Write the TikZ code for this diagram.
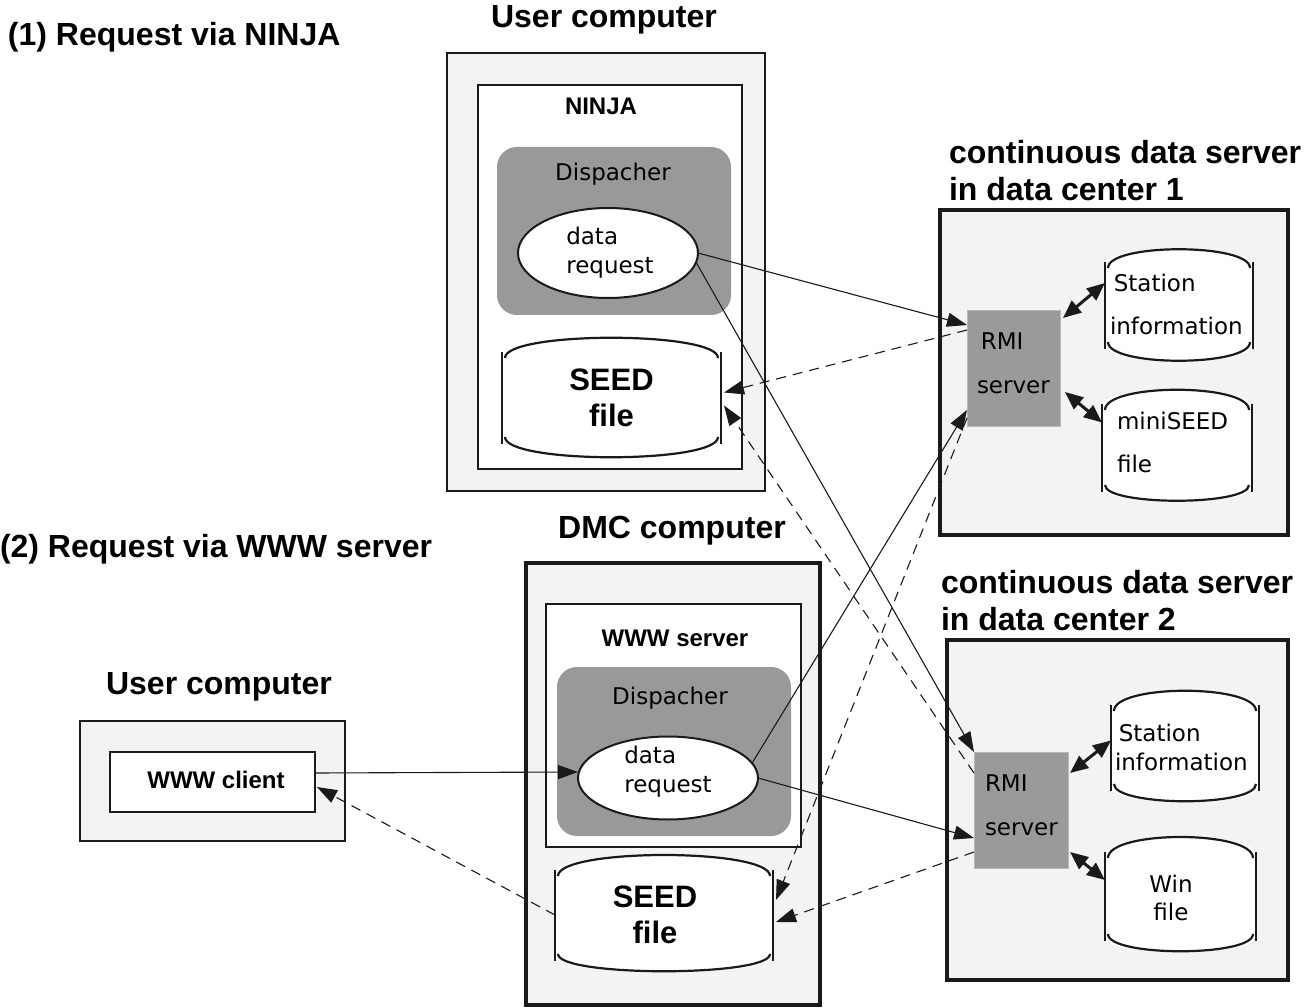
\documentclass[tikz,border=0pt]{standalone}
\usepackage{fontspec}
\setmainfont{Liberation Sans}
\newfontfamily\lblfont{DejaVu Sans}
\usetikzlibrary{arrows.meta,shapes.geometric}
\definecolor{boxgray}{HTML}{F3F3F3}
\definecolor{dispgray}{HTML}{999999}
\definecolor{rmigray}{HTML}{9A9A9A}
\definecolor{edge}{HTML}{1A1A1A}
\newcommand\cylshape[3]{%
  \fill[white] (#1.north west) .. controls ([yshift=#2]#1.north west) and ([yshift=#2]#1.north east) .. (#1.north east)
    -- (#1.south east) .. controls ([yshift=-#3]#1.south east) and ([yshift=-#3]#1.south west) .. (#1.south west) -- cycle;
  \draw[edge, line width=2.2pt] ([xshift=3pt,yshift=-3pt]#1.north west) .. controls ([xshift=3pt,yshift=#2]#1.north west) and ([xshift=-3pt,yshift=#2]#1.north east) .. ([xshift=-3pt,yshift=-3pt]#1.north east);
  \draw[edge, line width=2.2pt] ([xshift=3pt,yshift=3pt]#1.south west) .. controls ([xshift=3pt,yshift=-#3]#1.south west) and ([xshift=-3pt,yshift=-#3]#1.south east) .. ([xshift=-3pt,yshift=3pt]#1.south east);
  \draw[edge, line width=2.6pt] ([yshift=3pt]#1.north west) -- ([yshift=-4pt]#1.south west);
  \draw[edge, line width=1.4pt] ([yshift=3pt]#1.north east) -- ([yshift=-4pt]#1.south east);
}
\begin{document}
\begin{tikzpicture}[x=1pt,y=-1pt,
  every node/.style={inner sep=0pt, outer sep=0pt},
  txt/.style={font=\fontsize{32}{37}\selectfont\bfseries},
  lbl/.style={align=left, font=\lblfont\fontsize{23}{#1}\selectfont},
  lbl/.default=29,
  blbl/.style={font=\fontsize{24}{29}\selectfont\bfseries},
  seedtxt/.style={align=center, font=\fontsize{31}{36}\selectfont\bfseries},
  frame/.style={draw=edge, fill=boxgray, anchor=north west},
  innerbox/.style={draw=edge, fill=white, anchor=north west, line width=2pt},
  disp/.style={fill=dispgray, rounded corners=20pt, anchor=north west},
  req/.style={ellipse, draw=edge, fill=white, line width=2pt},
  cylbody/.style={anchor=north west},
  rmi/.style={fill=rmigray, draw=rmigray!70!white, line width=0.8pt, anchor=north west},
  conn/.style={line width=1.1pt, draw=edge, -{Triangle[length=20pt,width=14pt]}},
  back/.style={conn, dash pattern=on 10pt off 7pt},
  dbl/.style={line width=3pt, draw=edge, {Triangle[length=18pt,width=15pt]}-{Triangle[length=18pt,width=15pt]}}
]
\useasboundingbox[fill=white] (0,0) rectangle (1310,1008);

% ---- titles
\node[txt, anchor=west] (t1) at (8,37) {(1) Request via NINJA};
\node[txt] (uc1t) at (604,20) {User computer};
\node[txt, anchor=west] (t2) at (0,549) {(2) Request via WWW server};
\node[txt] (dmct) at (672,531) {DMC computer};
\node[txt] (uc2t) at (219,687) {User computer};
\node[txt, align=left, anchor=west] (cds1t) at (949,171) {continuous data server\\in data center 1};
\node[txt, align=left, anchor=west] (cds2t) at (941,601) {continuous data server\\in data center 2};

% ---- user computer (NINJA)
\node[frame, line width=2pt, minimum width=318pt, minimum height=438pt] (uc1) at (447,53) {};
\node[innerbox, minimum width=264pt, minimum height=384pt] (ninja) at (478,85) {};
\node[blbl] (ninjat) at (601,106) {NINJA};
\node[disp, minimum width=234pt, minimum height=168pt] (disp1) at (497,147) {};
\node[lbl] (disp1t) at (613,174) {Dispacher};
\node[req, minimum width=180pt, minimum height=90pt] (dr1) at (608,253) {};
\node[lbl] (dr1t) at (610,253) {data\\request};
\node[cylbody, minimum width=219pt, minimum height=85pt] (seed1) at (502,355) {};
\cylshape{seed1}{24pt}{24pt}
\node[seedtxt] (seed1t) at (seed1.center) {SEED\\file};

% ---- DMC computer
\node[frame, line width=4pt, minimum width=294pt, minimum height=442pt] (dmc) at (526,563) {};
\node[innerbox, minimum width=255pt, minimum height=243pt] (www) at (546,604) {};
\node[blbl] (wwwt) at (675,638) {WWW server};
\node[disp, minimum width=234pt, minimum height=169pt] (disp2) at (557,667) {};
\node[lbl] (disp2t) at (670,698) {Dispacher};
\node[req, minimum width=180pt, minimum height=83pt] (dr2) at (668,778) {};
\node[lbl] (dr2t) at (668,772) {data\\request};
\node[cylbody, minimum width=218pt, minimum height=84pt] (seed2) at (555,873) {};
\cylshape{seed2}{25pt}{20pt}
\node[seedtxt] (seed2t) at (655,915) {SEED\\file};

% ---- data center 1
\node[frame, line width=4pt, minimum width=348pt, minimum height=325pt] (cds1) at (940,210) {};
\node[rmi, minimum width=93pt, minimum height=116pt] (rmi1) at (967,310) {};
\node[lbl=44, anchor=west] (rmi1t) at (977,363) {\,RMI\\server};
\node[cylbody, minimum width=148pt, minimum height=80pt] (st1) at (1105,265) {};
\cylshape{st1}{22pt}{22pt}
\node[lbl=43, anchor=west] (st1t) at (1110,304.5) {\,Station\\information};
\node[cylbody, minimum width=150pt, minimum height=81pt] (mini1) at (1102,407) {};
\cylshape{mini1}{24pt}{18pt}
\node[lbl=43, anchor=west] (mini1t) at (1117,442.5) {miniSEED\\file};

% ---- data center 2
\node[frame, line width=4pt, minimum width=341pt, minimum height=340pt] (cds2) at (947,640) {};
\node[rmi, minimum width=94pt, minimum height=116pt] (rmi2) at (974,752) {};
\node[lbl=44, anchor=west] (rmi2t) at (985,805) {RMI\\server};
\node[cylbody, minimum width=148pt, minimum height=79pt] (st2) at (1111,708) {};
\cylshape{st2}{24pt}{20pt}
\node[lbl=29, anchor=west] (st2t) at (1115,747.5) {\,Station\\information};
\node[cylbody, minimum width=151pt, minimum height=82pt] (win2) at (1105,855) {};
\cylshape{win2}{25pt}{20pt}
\node[lbl=28, align=center] (win2t) at (1171,898) {Win\\file};

% ---- user computer (WWW client)
\node[frame, line width=2.5pt, minimum width=265pt, minimum height=120pt] (uc2) at (80,721) {};
\node[innerbox, minimum width=205pt, minimum height=60pt] (client) at (110,752) {};
\node[blbl] (clientt) at (216,780) {WWW client};

% ---- connectors
\draw[conn] (dr1.east) -- ([yshift=-15pt]rmi1.north west);
\draw[back] ([yshift=-20pt]rmi1.north west) -- ([xshift=3pt,yshift=5pt]seed1.east);
\draw[conn] (dr1.-6) -- (rmi2.north west);
\draw[back] ([yshift=-21pt]rmi2.north west) -- ([xshift=3pt,yshift=-8pt]seed1.east);
\draw[conn] (dr2.10) -- ([yshift=16pt]rmi1.south west);
\draw[back] ([yshift=8pt]rmi1.south west) -- ([xshift=3pt,yshift=15pt]seed2.east);
\draw[conn] (dr2.east) -- ([yshift=-86pt]rmi2.north west);
\draw[back] ([yshift=-100pt]rmi2.north west) -- ([xshift=3pt,yshift=-7pt]seed2.east);
\draw[conn] ([yshift=9pt]client.east) -- ([yshift=6pt]dr2.west);
\draw[back] (seed2.west) -- ([xshift=2pt,yshift=-5pt]client.east);

\draw[dbl] ([xshift=3pt,yshift=-8pt]rmi1.north east) -- ([yshift=22pt]st1.west);
\draw[dbl] ([xshift=5pt,yshift=-24pt]rmi1.east) -- ([yshift=25pt]mini1.west);
\draw[dbl] ([xshift=2pt,yshift=37pt]rmi2.east) -- ([yshift=7pt]st2.west);
\draw[dbl] ([xshift=2pt,yshift=-42pt]rmi2.east) -- ([yshift=16pt]win2.west);
\end{tikzpicture}
\end{document}
